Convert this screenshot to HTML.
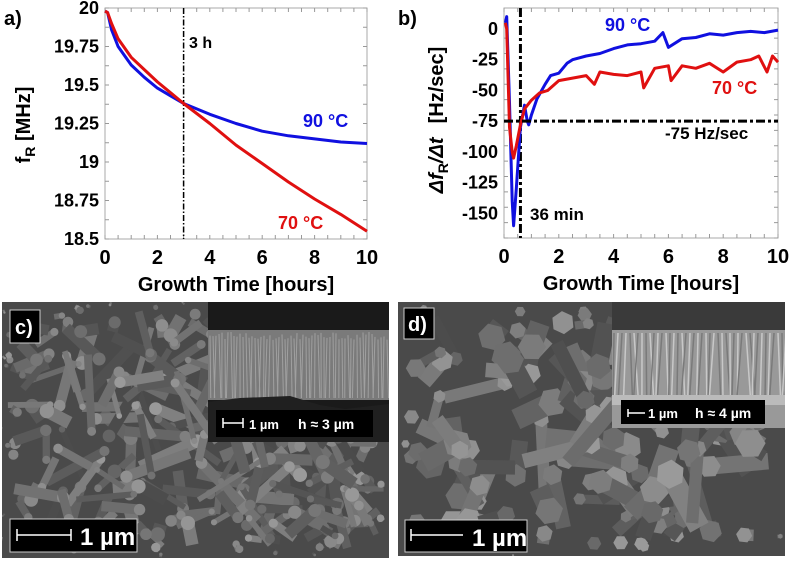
<!DOCTYPE html>
<html><head><meta charset="utf-8"><style>
html,body{margin:0;padding:0;background:#fff;width:793px;height:561px;overflow:hidden}
#wrap{position:relative;width:793px;height:561px;overflow:hidden}
svg{display:block;overflow:hidden;position:absolute;left:0;top:0}
text{font-family:"Liberation Sans",sans-serif;font-weight:bold}
</style></head><body>
<div id="wrap">
<svg id="fig" width="793" height="561" viewBox="0 0 793 561">
<rect width="793" height="561" fill="#fff"/>
<g id="pa"></g>
<g id="pb"></g>
<g id="sem"></g>
</svg>
</div>
<script>
// ---- Panel a data ----
const aTime=[0,0.1,0.25,0.5,1,1.5,2,2.5,3,4,5,6,7,8,9,10];
const a90=[19.98,19.97,19.86,19.75,19.63,19.55,19.48,19.43,19.38,19.31,19.25,19.2,19.17,19.15,19.13,19.12];
const a70=[19.98,19.97,19.9,19.8,19.68,19.6,19.52,19.45,19.38,19.25,19.11,18.99,18.87,18.76,18.66,18.55];
const aYTicks=[20,19.75,19.5,19.25,19,18.75,18.5];
const xTicks=[0,2,4,6,8,10];
// ---- Panel b data ----
const b90T=[0.05,0.1,0.2,0.3,0.35,0.45,0.6,0.75,0.85,0.9,1.0,1.2,1.5,1.7,2,2.3,2.5,3,3.5,4,4.5,5,5.5,5.8,6,6.5,7,7.5,8,8.5,9,9.5,10];
const b90V=[5,10,-60,-140,-160,-130,-80,-62,-75,-78,-70,-57,-45,-38,-36,-28,-25,-22,-20,-16,-13,-12,-10,-3,-15,-8,-7,-4,-5,-3,-2,-3,-1];
const b70T=[0.05,0.1,0.2,0.3,0.35,0.45,0.6,0.75,1,1.3,1.6,2,2.5,3,3.3,3.5,4,4.5,5,5.1,5.5,6,6.1,6.5,7,7.5,8,8.5,9,9.3,9.6,9.8,10];
const b70V=[5,0,-80,-100,-105,-95,-78,-65,-58,-52,-50,-42,-40,-38,-45,-35,-37,-38,-35,-48,-32,-30,-42,-30,-32,-28,-35,-27,-25,-22,-35,-22,-27];
const bYTicks=[0,-25,-50,-75,-100,-125,-150];

const NS="http://www.w3.org/2000/svg";
function mk(parent,tag,attrs,txt){const e=document.createElementNS(NS,tag);for(const k in attrs)e.setAttribute(k,attrs[k]);if(txt!==undefined)e.textContent=txt;parent.appendChild(e);return e;}

function drawPanel(g,o){
  const sx=v=>o.x0+(v-o.xmin)/(o.xmax-o.xmin)*(o.x1-o.x0);
  const sy=v=>o.y1-(v-o.ymin)/(o.ymax-o.ymin)*(o.y1-o.y0);
  const box=mk(g,'rect',{x:o.x0,y:o.y0,width:o.x1-o.x0,height:o.y1-o.y0,fill:'none',stroke:'#aaa','stroke-width':1});
  
  for(let v=o.xmin;v<=o.xmax+1e-9;v+=o.xminor){
    mk(g,'line',{x1:sx(v),x2:sx(v),y1:o.y1,y2:o.y1-4,stroke:'#999'});
    mk(g,'line',{x1:sx(v),x2:sx(v),y1:o.y0,y2:o.y0+4,stroke:'#999'});
  }
  for(let v=o.ymin;v<=o.ymax+1e-9;v+=o.yminor){
    mk(g,'line',{x1:o.x0,x2:o.x0+4,y1:sy(v),y2:sy(v),stroke:'#999'});
    mk(g,'line',{x1:o.x1,x2:o.x1-4,y1:sy(v),y2:sy(v),stroke:'#999'});
  }
  xTicks.forEach(v=>{const t=mk(g,'text',{x:sx(v),y:o.y1+25,'text-anchor':'middle','font-size':20},String(v));
    });
  o.yticks.forEach(v=>{const t=mk(g,'text',{x:o.x0-6,y:sy(v)+6,'text-anchor':'end','font-size':18},String(v));
    });
  const xt=mk(g,'text',{x:(o.x0+o.x1)/2,y:o.y1+52,'text-anchor':'middle','font-size':20},'Growth Time [hours]');
  
  return {sx,sy};
}
function line(g,xs,ys,s,col,name){
  const d=xs.map((x,i)=>(i?'L':'M')+s.sx(x).toFixed(1)+' '+s.sy(ys[i]).toFixed(1)).join('');
  const p=mk(g,'path',{d:d,fill:'none',stroke:col,'stroke-width':3,'stroke-linejoin':'round'});
  
}

// Panel a
const ga=document.getElementById('pa');
const sa=drawPanel(ga,{x0:105,x1:367,y0:8,y1:239,xmin:0,xmax:10,ymin:18.5,ymax:20,xminor:0.5,yminor:0.125,yticks:aYTicks});
mk(ga,'line',{x1:sa.sx(3),x2:sa.sx(3),y1:8,y2:239,stroke:'#000','stroke-width':1.5,'stroke-dasharray':'6 2 1.5 2'});
line(ga,aTime,a90,sa,'#1010e0','series-90c');
line(ga,aTime,a70,sa,'#e01010','series-70c');
mk(ga,'text',{x:189,y:48,'font-size':16},'3 h');
mk(ga,'text',{x:303,y:127,'font-size':18,fill:'#1010e0'},'90 °C');
mk(ga,'text',{x:278,y:229,'font-size':18,fill:'#e01010'},'70 °C');
mk(ga,'text',{x:4,y:25,'font-size':20},'a)');
const yta=mk(ga,'text',{transform:'translate(30,125) rotate(-90)','text-anchor':'middle','font-size':20});
yta.innerHTML='f<tspan font-size="14" dy="5">R</tspan><tspan dy="-5"> [MHz]</tspan>';


// Panel b
const gb=document.getElementById('pb');
const sb=drawPanel(gb,{x0:504,x1:778,y0:8,y1:238,xmin:0,xmax:10,ymin:-170,ymax:17,xminor:0.5,yminor:12.5,yticks:bYTicks});
mk(gb,'line',{x1:sb.sx(0.6),x2:sb.sx(0.6),y1:8,y2:238,stroke:'#000','stroke-width':3,'stroke-dasharray':'9 3 3 3'});
line(gb,b90T,b90V,sb,'#1010e0','series-90c');
line(gb,b70T,b70V,sb,'#e01010','series-70c');
mk(gb,'line',{x1:504,x2:778,y1:sb.sy(-75),y2:sb.sy(-75),stroke:'#000','stroke-width':3,'stroke-dasharray':'9 3 3 3'});
mk(gb,'text',{x:530,y:220,'font-size':17},'36 min');
mk(gb,'text',{x:665,y:139,'font-size':17},'-75 Hz/sec');
mk(gb,'text',{x:605,y:31,'font-size':18,fill:'#1010e0'},'90 °C');
mk(gb,'text',{x:712,y:94,'font-size':18,fill:'#e01010'},'70 °C');
mk(gb,'text',{x:398,y:25,'font-size':20},'b)');
const ytb=mk(gb,'text',{transform:'translate(443,120) rotate(-90)','text-anchor':'middle','font-size':20});
ytb.innerHTML='<tspan font-style="italic">Δf</tspan><tspan font-size="14" dy="5">R</tspan><tspan dy="-5" font-style="italic">/Δt</tspan><tspan dx="14">[Hz/sec]</tspan>';


// SEM images (decorative texture) - shapes kept inside panel bounds
const gs=document.getElementById('sem');
let seed=7;function rnd(){seed=(seed*16807)%2147483647;return seed/2147483647;}
function sem(x,y,w,h,hex,name){
  const g=mk(gs,'g',{});
  const cid='c'+name;const cp=mk(g,'clipPath',{id:cid});mk(cp,'rect',{x:x,y:y,width:w,height:h});
  const inner=mk(g,'g',{'clip-path':'url(#'+cid+')'});
  mk(inner,'rect',{x:x,y:y,width:w,height:h,fill:'#4a4a4a'});
  const n=hex?120:280;
  for(let i=0;i<n;i++){
    const cx=x+rnd()*w,cy=y+rnd()*h,ang=rnd()*360;let len=(hex?30:25)+rnd()*60;let th=hex?8+rnd()*14:5+rnd()*8;
    const c=75+Math.floor(rnd()*55);
    const dmin=Math.min(cx-x,x+w-cx,cy-y,y+h-cy);
    th=Math.min(th,Math.max(2,dmin*0.8));
    len=Math.min(len,Math.max(3,dmin-th));
    mk(inner,'rect',{x:cx,y:cy-th/2,width:len,height:th,fill:`rgb(${c},${c},${c})`,transform:`rotate(${ang} ${cx} ${cy})`});
    const cc=c+25;const r=Math.min(th*0.7,Math.max(1,dmin-1));
    if(hex){let pts=[];for(let k=0;k<6;k++){const a=Math.PI/3*k+ang;pts.push((cx+r*Math.cos(a)).toFixed(1)+','+(cy+r*Math.sin(a)).toFixed(1));}
      mk(inner,'polygon',{points:pts.join(' '),fill:`rgb(${cc},${cc},${cc})`});}
    else mk(inner,'circle',{cx:cx,cy:cy,r:r*0.8,fill:`rgb(${cc},${cc},${cc})`});
  }
  return inner;
}
const c=sem(2,302,387,256,false,'sem-image-c');
mk(c,'rect',{x:208,y:302,width:181,height:140,fill:'#1a1a1a'});
mk(c,'rect',{x:208,y:330,width:181,height:70,fill:'#7a7a7a'});
for(let i=0;i<60;i++){const xx=210+i*3;mk(c,'line',{x1:xx,x2:xx+rnd()*4-2,y1:332+rnd()*8,y2:398,stroke:'#a0a0a0','stroke-width':1});}
mk(c,'path',{d:'M208 402 L240 398 L290 396 L320 405 L345 409 L389 404 L389 442 L208 442Z',fill:'#202020'});
mk(c,'rect',{x:216,y:410,width:157,height:27,fill:'#000'});
mk(c,'path',{d:'M223 423 H243 M223 418 V428 M243 418 V428',stroke:'#fff','stroke-width':1.5});
mk(c,'text',{x:249,y:429,'font-size':13,fill:'#fff'},'1 µm');
mk(c,'text',{x:298,y:429,'font-size':14,fill:'#fff'},'h ≈ 3 µm');
mk(c,'rect',{x:10,y:310,width:30,height:33,fill:'#000',stroke:'#ccc'});
mk(c,'text',{x:15,y:334,'font-size':20,fill:'#fff'},'c)');
mk(c,'rect',{x:10,y:519,width:127,height:33,fill:'#000',stroke:'#ccc'});
mk(c,'path',{d:'M17 535 H71 M17 529 V541 M71 529 V541',stroke:'#fff','stroke-width':1.5});
mk(c,'text',{x:80,y:545,'font-size':24,fill:'#fff'},'1 µm');

const d=sem(398,302,387,254,true,'sem-image-d');
mk(d,'rect',{x:612,y:302,width:173,height:126,fill:'#999'});
mk(d,'rect',{x:612,y:302,width:173,height:28,fill:'#3a3a3a'});
for(let i=0;i<45;i++){const xx=614+i*4;mk(d,'line',{x1:xx,x2:xx+rnd()*10-5,y1:333,y2:395,stroke:i%2?'#c8c8c8':'#7a7a7a','stroke-width':1.5});}
mk(d,'rect',{x:612,y:395,width:173,height:10,fill:'#bbb'});
mk(d,'rect',{x:621,y:400,width:144,height:24,fill:'#000'});
mk(d,'path',{d:'M628 413 H645 M628 409 V417',stroke:'#fff','stroke-width':1.5});
mk(d,'text',{x:648,y:418,'font-size':13,fill:'#fff'},'1 µm');
mk(d,'text',{x:695,y:418,'font-size':14,fill:'#fff'},'h ≈ 4 µm');
mk(d,'rect',{x:404,y:308,width:30,height:31,fill:'#000',stroke:'#ccc'});
mk(d,'text',{x:408,y:331,'font-size':20,fill:'#fff'},'d)');
mk(d,'rect',{x:405,y:520,width:122,height:32,fill:'#000',stroke:'#ccc'});
mk(d,'path',{d:'M411 535 H463 M411 529 V541',stroke:'#fff','stroke-width':1.5});
mk(d,'text',{x:472,y:546,'font-size':24,fill:'#fff'},'1 µm');
</script>
</body></html>
